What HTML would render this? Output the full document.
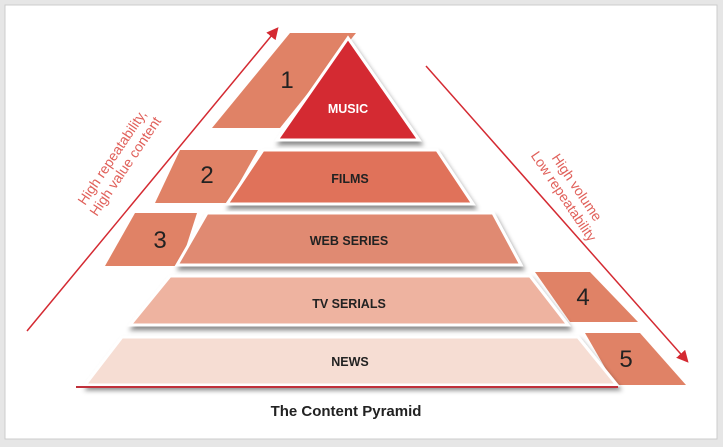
<!DOCTYPE html>
<html><head><meta charset="utf-8"><style>
html,body{margin:0;padding:0;background:#fff;}
svg{display:block;}
text{font-family:"Liberation Sans",Arial,sans-serif;}
</style></head><body>
<svg width="723" height="447" viewBox="0 0 723 447" xmlns="http://www.w3.org/2000/svg">
<defs>
<filter id="sh" x="-10%" y="-10%" width="120%" height="140%">
<feDropShadow dx="2" dy="4" stdDeviation="2.5" flood-color="#000" flood-opacity="0.45"/>
</filter>
<marker id="ar" viewBox="0 0 10 10" refX="8" refY="5" markerWidth="8" markerHeight="8" orient="auto-start-reverse">
<path d="M0,0 L10,5 L0,10 z" fill="#d42a32"/>
</marker>
</defs>
<rect x="0" y="0" width="723" height="447" fill="#e6e6e6"/>
<rect x="5" y="5" width="712" height="434" fill="#fff" stroke="#ccc"/>

<g fill="#e08266">
<polygon points="290,33 356,33 280,128 212,128"/>
<polygon points="180,150 258,150 228,203 155,203"/>
<polygon points="135,213 197,213 180,266 105,266"/>
<polygon points="535,272 590,272 638,322 570,322"/>
<polygon points="585,333 640,333 686,385 615,385"/>
</g>
<g font-size="24" fill="#222">
<text x="287" y="88" text-anchor="middle">1</text>
<text x="207" y="183" text-anchor="middle">2</text>
<text x="160" y="248" text-anchor="middle">3</text>
<text x="583" y="305" text-anchor="middle">4</text>
<text x="626" y="367" text-anchor="middle">5</text>
</g>

<g stroke="#fff" stroke-width="3" filter="url(#sh)">
<polygon points="122,337 578,337 617,385 85,385" fill="#f6ddd3"/>
<polygon points="170,276 530,276 568,325 130,325" fill="#eeb3a0"/>
<polygon points="207,213 493,213 521,265 177,265" fill="#e08a72"/>
<polygon points="263,150 437,150 473,204 227,204" fill="#e0725a"/>
<polygon points="348,38 419,140 277,140" fill="#d42a32"/>
</g>
<line x1="76" y1="387" x2="618" y2="387" stroke="#c0303a" stroke-width="2"/>

<g font-size="12.5" font-weight="bold" fill="#222" text-anchor="middle">
<text x="348" y="113" fill="#fff">MUSIC</text>
<text x="350" y="183">FILMS</text>
<text x="349" y="245">WEB SERIES</text>
<text x="349" y="308">TV SERIALS</text>
<text x="350" y="366">NEWS</text>
</g>

<line x1="27" y1="331" x2="277" y2="29" stroke="#d42a32" stroke-width="1.5" marker-end="url(#ar)"/>
<line x1="426" y1="66" x2="687" y2="361" stroke="#d42a32" stroke-width="1.5" marker-end="url(#ar)"/>

<g font-size="14" fill="#e0605a" text-anchor="middle">
<text transform="translate(116,160) rotate(-56)"><tspan x="0" y="0">High repeatability,</tspan><tspan x="0" y="16">High value content</tspan></text>
<text transform="translate(573,190) rotate(56)"><tspan x="0" y="0">High volume</tspan><tspan x="0" y="16">Low repeatability</tspan></text>
</g>

<text x="346" y="416" font-size="15" font-weight="bold" fill="#222" text-anchor="middle">The Content Pyramid</text>
</svg>
</body></html>
